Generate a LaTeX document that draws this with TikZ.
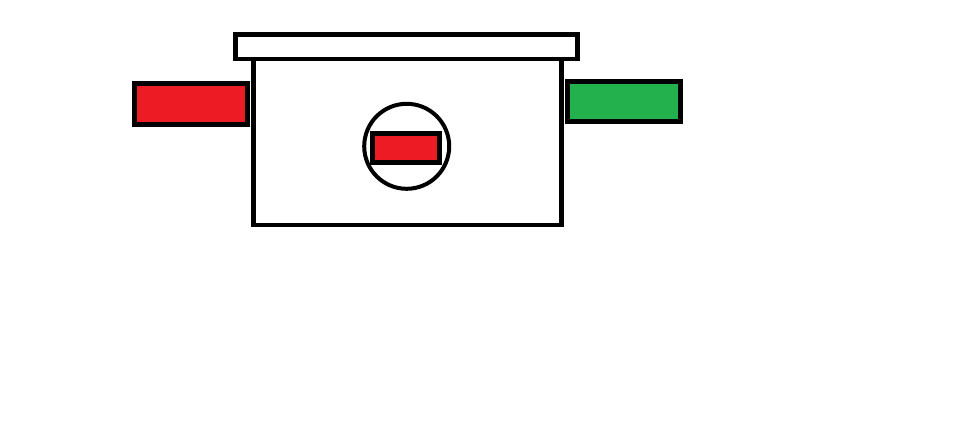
\documentclass[tikz,border=0pt]{standalone}
\begin{document}
\begin{tikzpicture}[x=1pt,y=-1pt,
  part/.style={draw=black,line width=4.8pt,rectangle,inner sep=0pt,outer sep=0pt},
  ring/.style={draw=black,line width=4pt,circle,inner sep=0pt,outer sep=0pt}]
\definecolor{paintred}{HTML}{ED1C24}
\definecolor{paintgreen}{HTML}{22B14C}
\useasboundingbox[fill=white] (0,0) rectangle (957,423);
% main box
\node[part,fill=white,minimum width=308pt,minimum height=166pt] (box) at (407.5,142) {};
% lid
\node[part,fill=white,minimum width=342pt,minimum height=24.5pt] (lid) at (406.7,46.7) {};
% side pads
\node[part,fill=paintred,minimum width=113.2pt,minimum height=40.7pt] (left) at (190.9,103.8) {};
\node[part,fill=paintgreen,minimum width=113.3pt,minimum height=40.1pt] (right) at (624.2,101.8) {};
% window
\node[ring,minimum size=85pt] (win) at (406.7,146.3) {};
\node[part,fill=paintred,minimum width=67.3pt,minimum height=29.2pt] (core) at (406.2,147.9) {};
\end{tikzpicture}
\end{document}
